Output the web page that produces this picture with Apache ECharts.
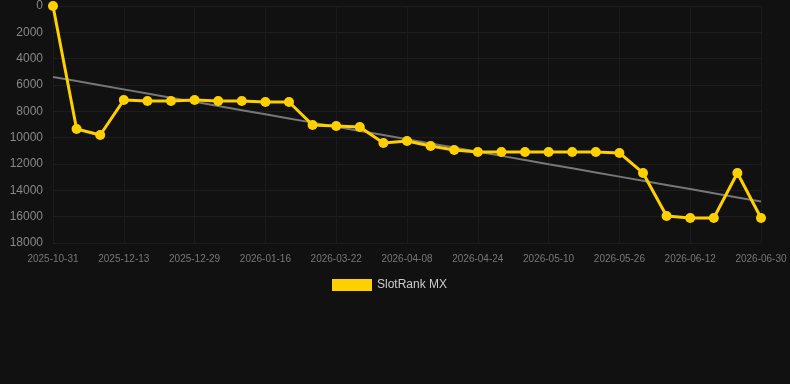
<!DOCTYPE html>
<html>
<head>
<meta charset="utf-8">
<script src="https://cdn.jsdelivr.net/npm/echarts@6/dist/echarts.min.js"></script>
<style>
  html, body { margin: 0; padding: 0; background: #111111; }
  #chart { width: 790px; height: 384px; }
</style>
</head>
<body>
<div id="chart"></div>
<script>
  var dates = [
    '2025-10-31', '2025-11-14', '2025-11-28',
    '2025-12-13', '2025-12-18', '2025-12-23',
    '2025-12-29', '2026-01-04', '2026-01-10',
    '2026-01-16', '2026-02-10', '2026-03-05',
    '2026-03-22', '2026-03-28', '2026-04-02',
    '2026-04-08', '2026-04-13', '2026-04-18',
    '2026-04-24', '2026-04-29', '2026-05-04',
    '2026-05-10', '2026-05-15', '2026-05-20',
    '2026-05-26', '2026-05-31', '2026-06-06',
    '2026-06-12', '2026-06-18', '2026-06-24',
    '2026-06-30'
  ];
  var ranks = [
    0, 9340, 9800,
    7140, 7210, 7210,
    7140, 7210, 7210,
    7290, 7290, 9040,
    9110, 9190, 10400,
    10250, 10630, 10930,
    11090, 11090, 11090,
    11090, 11090, 11090,
    11160, 12680, 15950,
    16100, 16100, 12680,
    16100
  ];

  // least squares trend over the rank values
  var n = ranks.length, sx = 0, sy = 0, sxy = 0, sxx = 0;
  for (var i = 0; i < n; i++) {
    sx += i; sy += ranks[i]; sxy += i * ranks[i]; sxx += i * i;
  }
  var slope = (n * sxy - sx * sy) / (n * sxx - sx * sx);
  var icpt = (sy - slope * sx) / n;
  var trend = ranks.map(function (v, i) { return Math.round(icpt + slope * i); });

  var myChart = echarts.init(document.getElementById('chart'));
  var option = {
    backgroundColor: '#111111',
    animation: false,
    grid: { left: 53, right: 29, top: 6, bottom: 141 },
    legend: {
      data: ['SlotRank MX'],
      top: 274,
      left: 327,
      icon: 'rect',
      itemWidth: 40,
      itemHeight: 12,
      textStyle: { color: '#cccccc', fontSize: 12 }
    },
    xAxis: {
      type: 'category',
      boundaryGap: false,
      data: dates,
      axisLine: { show: false },
      axisTick: { show: false },
      axisLabel: { color: '#777777', fontSize: 10, interval: 2, margin: 11 },
      splitLine: { show: true, interval: 2, lineStyle: { color: '#1b1b1b' } }
    },
    yAxis: {
      type: 'value',
      inverse: true,
      min: 0,
      max: 18000,
      interval: 2000,
      axisLine: { show: false },
      axisTick: { show: false },
      axisLabel: {
        color: '#888888', fontSize: 12, margin: 10,
        formatter: function (v) { return String(v); }
      },
      splitLine: { lineStyle: { color: '#1d1d1d' } }
    },
    series: [
      {
        name: 'trend',
        type: 'line',
        data: trend,
        symbol: 'none',
        lineStyle: { color: '#777777', width: 2 },
        silent: true,
        z: 1
      },
      {
        name: 'SlotRank MX',
        type: 'line',
        data: ranks,
        clip: false,
        symbol: 'circle',
        symbolSize: 10,
        itemStyle: { color: '#ffd000' },
        lineStyle: { color: '#ffd000', width: 3 },
        z: 2
      }
    ]
  };
  myChart.setOption(option, true);
</script>
</body>
</html>
